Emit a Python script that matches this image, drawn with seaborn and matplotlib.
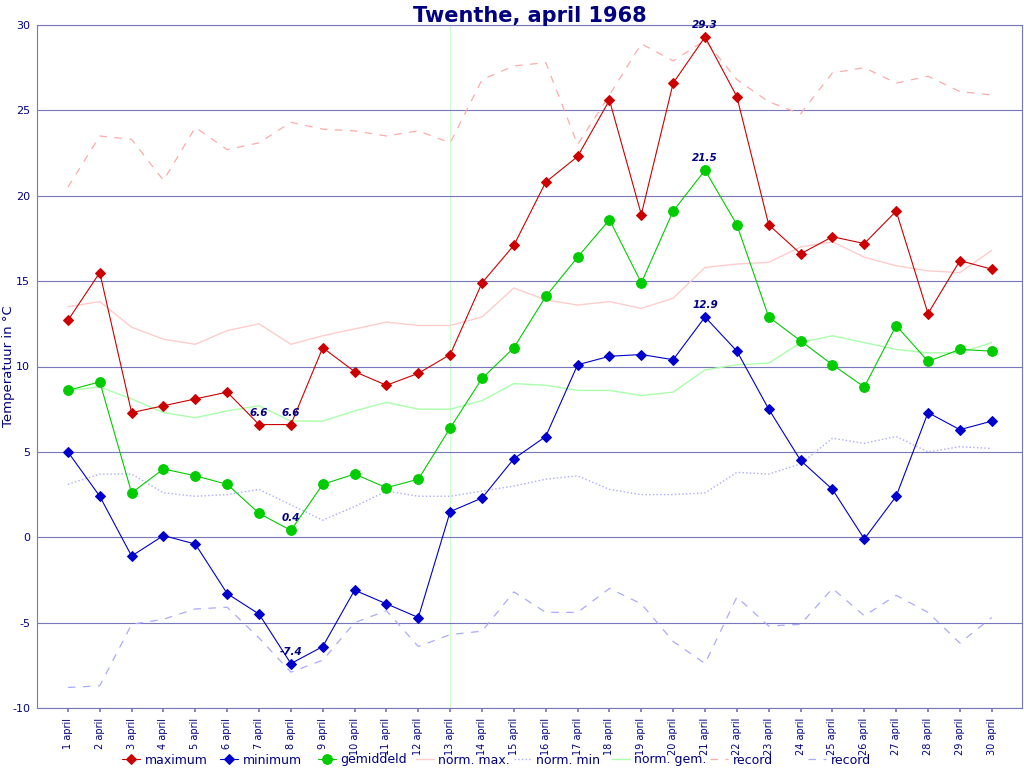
import matplotlib
matplotlib.use("Agg")
import matplotlib.pyplot as plt
import seaborn as sns
import pandas as pd
import numpy as np

days = list(range(1, 31))
tick_labels = [f"{d} april" for d in days]

maximum = [12.7, 15.5, 7.3, 7.7, 8.1, 8.5, 6.6, 6.6, 11.1, 9.7, 8.9, 9.6, 10.7, 14.9, 17.1,
           20.8, 22.3, 25.6, 18.9, 26.6, 29.3, 25.8, 18.3, 16.6, 17.6, 17.2, 19.1, 13.1, 16.2, 15.7]
minimum = [5.0, 2.4, -1.1, 0.1, -0.4, -3.3, -4.5, -7.4, -6.4, -3.1, -3.9, -4.7, 1.5, 2.3, 4.6,
           5.9, 10.1, 10.6, 10.7, 10.4, 12.9, 10.9, 7.5, 4.5, 2.8, -0.1, 2.4, 7.3, 6.3, 6.8]
gemiddeld = [8.6, 9.1, 2.6, 4.0, 3.6, 3.1, 1.4, 0.4, 3.1, 3.7, 2.9, 3.4, 6.4, 9.3, 11.1,
             14.1, 16.4, 18.6, 14.9, 19.1, 21.5, 18.3, 12.9, 11.5, 10.1, 8.8, 12.4, 10.3, 11.0, 10.9]
norm_max = [13.5, 13.8, 12.3, 11.6, 11.3, 12.1, 12.5, 11.3, 11.8, 12.2, 12.6, 12.4, 12.4, 12.9, 14.6,
            13.9, 13.6, 13.8, 13.4, 14.0, 15.8, 16.0, 16.1, 17.0, 17.3, 16.4, 15.9, 15.6, 15.5, 16.8]
norm_min = [3.1, 3.7, 3.7, 2.6, 2.4, 2.5, 2.8, 1.9, 1.0, 1.8, 2.7, 2.4, 2.4, 2.7, 3.0,
            3.4, 3.6, 2.8, 2.5, 2.5, 2.6, 3.8, 3.7, 4.3, 5.8, 5.5, 5.9, 5.0, 5.3, 5.2]
norm_gem = [8.6, 8.8, 8.1, 7.3, 7.0, 7.4, 7.7, 6.8, 6.8, 7.4, 7.9, 7.5, 7.5, 8.0, 9.0,
            8.9, 8.6, 8.6, 8.3, 8.5, 9.8, 10.1, 10.2, 11.4, 11.8, 11.4, 11.0, 10.8, 10.8, 11.4]
record_max = [20.5, 23.5, 23.3, 20.9, 24.0, 22.7, 23.1, 24.3, 23.9, 23.8, 23.5, 23.8, 23.1, 26.8, 27.6,
              27.8, 23.0, 25.9, 28.9, 27.9, 29.1, 26.8, 25.5, 24.8, 27.2, 27.5, 26.6, 27.0, 26.1, 25.9]
record_min = [-8.8, -8.7, -5.1, -4.8, -4.2, -4.1, -5.9, -7.9, -7.2, -5.0, -4.3, -6.4, -5.7, -5.5, -3.2,
              -4.4, -4.4, -3.0, -3.9, -6.1, -7.4, -3.5, -5.2, -5.1, -3.0, -4.6, -3.4, -4.4, -6.2, -4.7]

navy = "#000080"
gridc = "#7777bb"

sns.set_theme(style="white")
plt.rcParams['font.family'] = ['DejaVu Sans']
plt.rcParams['axes.unicode_minus'] = False

fig = plt.figure(figsize=(10.24, 7.68), dpi=100)
ax = fig.add_axes([37/1024, 1-708/768, 985/1024, 683/768])

ax.axvline(13, color="#ccffcc", lw=0.8, zorder=0)

def line(y, label, color, ls="-", lw=0.8, marker=None, ms=6, z=2):
    sns.lineplot(x=days, y=y, ax=ax, color=color, linestyle=ls, linewidth=lw,
                 marker=marker, markersize=ms, markeredgecolor=color, markerfacecolor=color,
                 label=label, zorder=z)

line(maximum, "maximum", "#cc0000", marker="D", ms=5, z=5)
line(minimum, "minimum", "#0000cc", marker="D", ms=5, z=5)
line(gemiddeld, "gemiddeld", "#00cc00", marker="o", ms=7, z=5)
line(norm_max, "norm. max.", "#ffcccc", ls="-", lw=1.0)
line(norm_min, "norm. min", "#aaaaff", ls=":", lw=1.0)
line(norm_gem, "norm. gem.", "#aaffaa", ls="-", lw=1.0)
line(record_max, "record", "#ffaaaa", ls=(0, (6, 6)), lw=0.9)
line(record_min, "record", "#aaaaff", ls=(0, (6, 6)), lw=0.9)

def annot(series, idxs):
    for i in idxs:
        ax.annotate(f"{series[i]:.1f}", (days[i], series[i]), xytext=(0, 5),
                    textcoords="offset points", ha="center", va="bottom",
                    fontsize=7.5, fontweight="bold", fontstyle="italic", color=navy, zorder=6)

annot(maximum, [6, 7, int(np.argmax(maximum))])
annot(gemiddeld, [int(np.argmax(gemiddeld)), int(np.argmin(gemiddeld))])
annot(minimum, [int(np.argmax(minimum)), int(np.argmin(minimum))])

ax.set_xlim(0.03, 30.95)
ax.set_ylim(-10, 30)
ax.set_yticks(range(-10, 31, 5))
ax.set_xticks(days)
ax.set_xticklabels(tick_labels, rotation=90, fontsize=7, color=navy)
ax.tick_params(axis="y", labelsize=8, labelcolor=navy, length=0, pad=5)
ax.tick_params(axis="x", length=3, color=gridc, bottom=True, pad=4)
ax.yaxis.grid(True, color=gridc, lw=0.8)
ax.xaxis.grid(False)
for s in ax.spines.values():
    s.set_color(gridc)
    s.set_linewidth(0.8)
ax.set_xlabel("")
ax.set_ylabel("Temperatuur in °C", color=navy, fontsize=9.5)
ax.yaxis.set_label_coords(-22/985, 0.5)
ax.set_title("Twenthe, april 1968", color=navy, fontsize=15, fontweight="bold", pad=2)

handles, labels = ax.get_legend_handles_labels()
if ax.legend_:
    ax.legend_.remove()
leg_x0 = 122
leg_step = 98
for i, (h, l) in enumerate(zip(handles, labels)):
    fig.legend([h], [l], loc="center left",
               bbox_to_anchor=((leg_x0 + i * leg_step) / 1024, 1 - 760 / 768),
               frameon=False, fontsize=9, handlelength=1.4, handletextpad=0.4,
               borderpad=0, borderaxespad=0, labelcolor=navy)

fig.savefig("out.png", dpi=100)
